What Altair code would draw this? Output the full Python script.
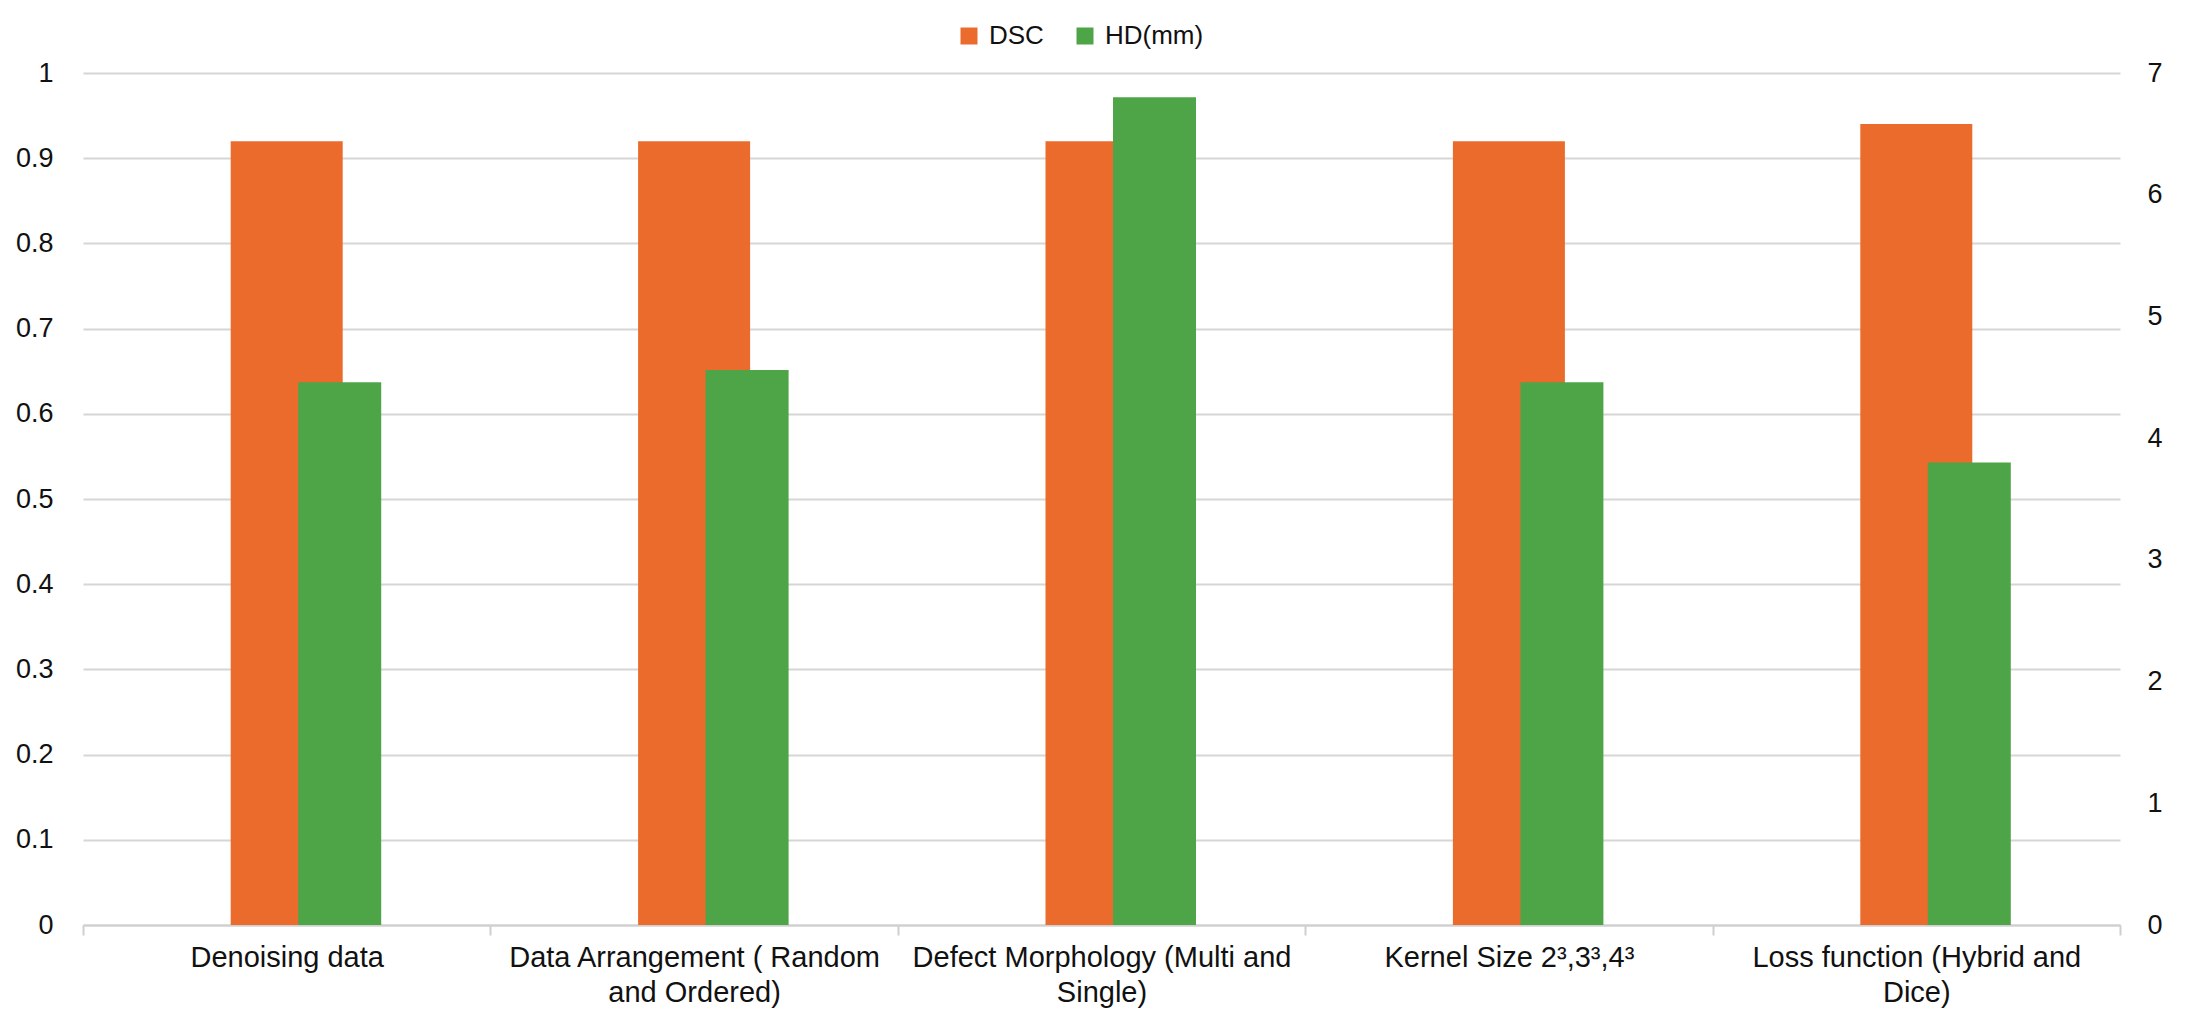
import altair as alt
import pandas as pd

categories = [
    "Denoising data",
    "Data Arrangement ( Random\nand Ordered)",
    "Defect Morphology (Multi and\nSingle)",
    "Kernel Size 2\u00b3,3\u00b3,4\u00b3",
    "Loss function (Hybrid and\nDice)",
]
dsc_values = [0.92, 0.92, 0.92, 0.92, 0.94]
hd_values = [4.46, 4.56, 6.80, 4.46, 3.80]

series_names = ["DSC", "HD(mm)"]
series_colors = ["#EB6B2D", "#4EA547"]

left_ticks = [round(i * 0.1, 1) for i in range(11)]
right_ticks = list(range(8))

df = pd.DataFrame({"category": categories, "DSC": dsc_values, "HD": hd_values})

FONT = "Liberation Sans"
GRID = "#d6d6d6"

x_enc = alt.X(
    "category:N",
    sort=categories,
    scale=alt.Scale(paddingInner=0, paddingOuter=0),
    axis=alt.Axis(
        title=None,
        labelAngle=0,
        labelFontSize=29,
        labelFont=FONT,
        labelColor="#111111",
        labelLimit=0,
        labelOverlap=False,
        labelLineHeight=35,
        labelPadding=8,
        labelExpr="split(datum.label, '\\n')",
        tickBand="extent",
        tickSize=10,
        tickWidth=2,
        tickColor="#cfcfcf",
        domainColor="#cfcfcf",
        domainWidth=2,
        grid=False,
    ),
)

color_scale = alt.Scale(domain=series_names, range=series_colors)
legend = alt.Legend(
    title=None,
    orient="none",
    legendX=873,
    legendY=-50,
    direction="horizontal",
    symbolType="square",
    symbolSize=289,
    symbolStrokeWidth=0,
    labelFontSize=26,
    labelFont=FONT,
    labelColor="#111111",
    labelOffset=7,
    columnPadding=28,
)

base = alt.Chart(df).encode(x=x_enc)

dsc = base.transform_calculate(series="'DSC'").mark_bar(width=112).encode(
    y=alt.Y(
        "DSC:Q",
        scale=alt.Scale(domain=[0, 1], nice=False),
        axis=alt.Axis(
            title=None,
            values=left_ticks,
            format="~g",
            labelFontSize=27,
            labelFont=FONT,
            labelColor="#111111",
            labelPadding=30,
            domain=False,
            ticks=False,
            grid=True,
            gridColor=GRID,
            gridWidth=2,
        ),
    ),
    color=alt.Color("series:N", scale=color_scale, legend=legend),
)

hd = base.transform_calculate(series="'HD(mm)'").mark_bar(width=83, xOffset=53).encode(
    y=alt.Y(
        "HD:Q",
        scale=alt.Scale(domain=[0, 7], nice=False),
        axis=alt.Axis(
            title=None,
            orient="right",
            values=right_ticks,
            labelFontSize=27,
            labelFont=FONT,
            labelColor="#111111",
            labelPadding=27,
            domain=False,
            ticks=False,
            grid=False,
        ),
    ),
    color=alt.Color("series:N", scale=color_scale, legend=legend),
)

chart = (
    alt.layer(dsc, hd)
    .resolve_scale(y="independent")
    .properties(
        width=2037,
        height=852,
        autosize=alt.AutoSizeParams(type="none"),
        padding={"left": 75, "top": 65, "right": 60, "bottom": 90},
        background="white",
    )
    .configure_view(stroke=None)
)

chart.save("out.html", embed_options={"renderer": "svg", "actions": False})
